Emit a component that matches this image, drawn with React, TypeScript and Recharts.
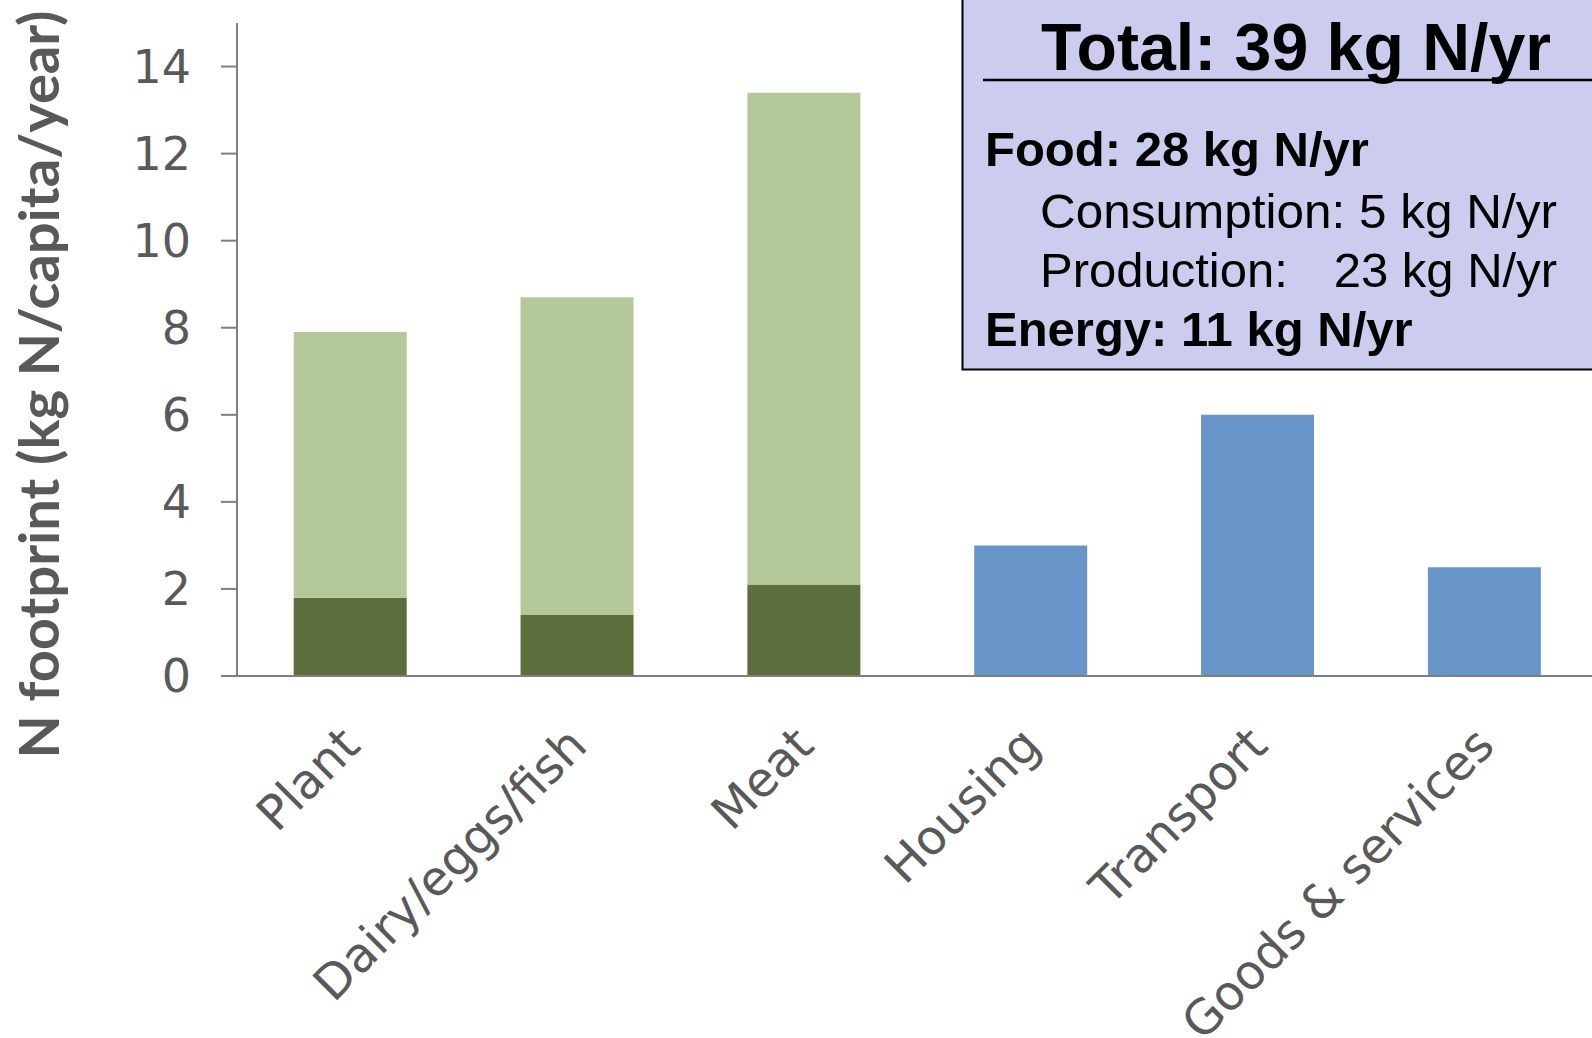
import React from 'react';
import { BarChart, Bar, XAxis, YAxis } from 'recharts';

// Per-capita N footprint by category (kg N / capita / year)
const categories = ['Plant', 'Dairy/eggs/fish', 'Meat', 'Housing', 'Transport', 'Goods & services'];
const consumptionN = [1.8, 1.4, 2.1, 0, 0, 0];
const productionN = [6.1, 7.3, 11.3, 0, 0, 0];
const energyN = [0, 0, 0, 3.0, 6.0, 2.5];
const yTicks = [0, 2, 4, 6, 8, 10, 12, 14];
const yDomain = [0, 15];

const yTitle = 'N footprint (kg N/capita/year)';

// Summary panel text
const totalLine = 'Total: 39 kg N/yr';
const foodLine = 'Food: 28 kg N/yr';
const consumptionLine = 'Consumption: 5 kg N/yr';
const productionLabel = 'Production:';
const productionValue = '23 kg N/yr';
const energyLine = 'Energy: 11 kg N/yr';

const data = categories.map((name, i) => ({
  name,
  consumption: consumptionN[i],
  production: productionN[i],
  energy: energyN[i],
}));

const AXIS_GREY = '#7f7f7f';
const TEXT_GREY = '#595959';
const AXIS_FONT = '"DejaVu Sans", sans-serif';
const BOX_FONT = '"Liberation Sans", Arial, sans-serif';

const CategoryTick = (props: any) => {
  const { x, y, payload } = props;
  const ax = x + 12;
  const ay = y + 72;
  return (
    <text
      x={ax}
      y={ay}
      textAnchor="end"
      transform={`rotate(-45, ${ax}, ${ay})`}
      fontFamily={AXIS_FONT}
      fontSize={48}
      fill={TEXT_GREY}
    >
      {payload.value}
    </text>
  );
};

const YTitle = (props: any) => {
  const vb = props.viewBox || { x: 0, y: 23, width: 237, height: 653 };
  const cx = vb.x + 59;
  const cy = vb.y + vb.height / 2 + 35;
  return (
    <text
      x={cx}
      y={cy}
      transform={`rotate(-90, ${cx}, ${cy})`}
      textAnchor="middle"
      fontFamily='Lato, "DejaVu Sans", sans-serif'
      fontWeight="bold"
      fontSize={55}
      fill={TEXT_GREY}
      textLength={748}
      lengthAdjust="spacingAndGlyphs"
    >
      {yTitle}
    </text>
  );
};

const SummaryPanel = () => (
  <svg
    width={1592}
    height={1038}
    style={{ position: 'absolute', left: 0, top: 0, pointerEvents: 'none' }}
  >
    <rect x={962.5} y={-10} width={700} height={379.5} fill="#CCCCEE" stroke="#000" strokeWidth={2} />
    <text
      x={1041}
      y={70}
      fontFamily={BOX_FONT}
      fontWeight="bold"
      fontSize={66}
      fill="#000"
      textLength={510}
      lengthAdjust="spacingAndGlyphs"
    >
      {totalLine}
    </text>
    <line x1={983} y1={80} x2={1600} y2={80} stroke="#000" strokeWidth={2.5} />
    <text x={985} y={165.5} fontFamily={BOX_FONT} fontWeight="bold" fontSize={49} fill="#000">
      {foodLine}
    </text>
    <text
      x={1040}
      y={227.5}
      fontFamily={BOX_FONT}
      fontSize={49}
      fill="#000"
      textLength={517}
      lengthAdjust="spacingAndGlyphs"
    >
      {consumptionLine}
    </text>
    <text x={1040} y={287} fontFamily={BOX_FONT} fontSize={49} fill="#000">
      {productionLabel}
      <tspan x={1557} textAnchor="end">{productionValue}</tspan>
    </text>
    <text x={985} y={346} fontFamily={BOX_FONT} fontWeight="bold" fontSize={49} fill="#000">
      {energyLine}
    </text>
  </svg>
);

export default function App() {
  return (
    <div
      style={{
        position: 'fixed',
        left: 0,
        top: 0,
        width: 1592,
        height: 1038,
        overflow: 'hidden',
        background: '#ffffff',
      }}
    >
      <BarChart
        width={1600}
        height={1038}
        data={data}
        margin={{ top: 23, right: 2, bottom: 0, left: 0 }}
        barCategoryGap="25%"
      >
        <XAxis
          dataKey="name"
          height={362}
          interval={0}
          tickSize={0}
          tickMargin={0}
          tickLine={false}
          axisLine={{ stroke: AXIS_GREY, strokeWidth: 2 }}
          tick={<CategoryTick />}
        />
        <YAxis
          width={237}
          domain={yDomain}
          ticks={yTicks}
          interval={0}
          tickSize={16}
          tickMargin={30}
          axisLine={{ stroke: AXIS_GREY, strokeWidth: 2 }}
          tickLine={{ stroke: AXIS_GREY, strokeWidth: 2 }}
          tick={{ fill: TEXT_GREY, fontSize: 46, fontFamily: AXIS_FONT }}
          label={<YTitle />}
        />
        <Bar dataKey="consumption" stackId="a" fill="#5C6E3C" isAnimationActive={false} />
        <Bar dataKey="production" stackId="a" fill="#B5C89A" isAnimationActive={false} />
        <Bar dataKey="energy" stackId="a" fill="#6895C8" isAnimationActive={false} />
      </BarChart>
      <SummaryPanel />
    </div>
  );
}
